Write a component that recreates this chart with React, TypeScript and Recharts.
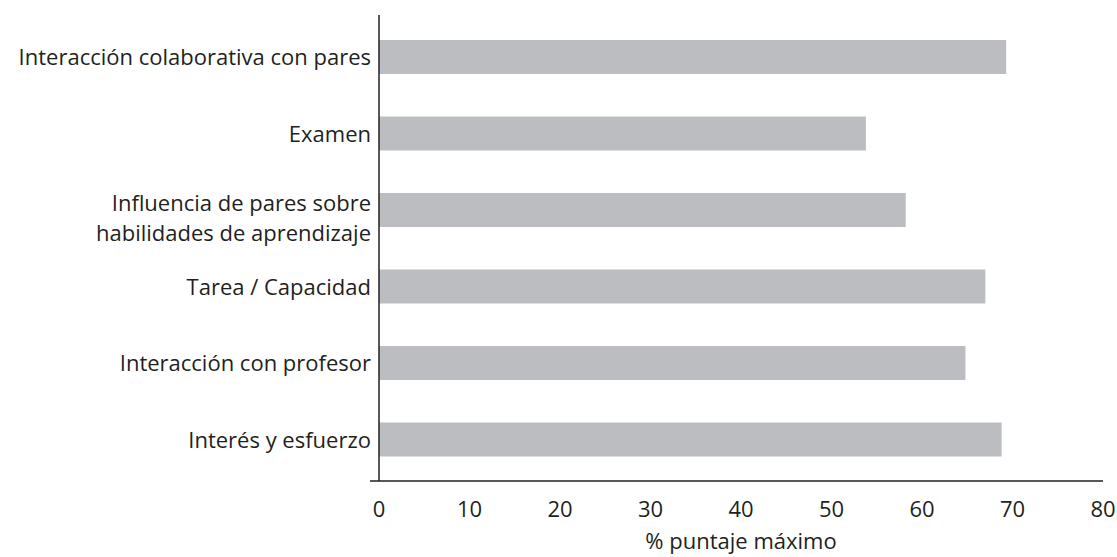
import { BarChart, Bar, XAxis, YAxis, Label, usePlotArea } from 'recharts'

const categories = [
  'Interacción colaborativa con pares',
  'Examen',
  'Influencia de pares sobre\nhabilidades de aprendizaje',
  'Tarea / Capacidad',
  'Interacción con profesor',
  'Interés y esfuerzo',
]
const scores = [69.3, 53.8, 58.2, 67.0, 64.8, 68.8]
const xTicks = [0, 10, 20, 30, 40, 50, 60, 70, 80]
const xTitle = '% puntaje máximo'

const data = categories.map((name, i) => ({ name, value: scores[i] }))

const INK = '#231f20'
const BAR = '#bcbdc1'
const FONT = '"Open Sans", sans-serif'

function CategoryTick({ x, y, payload }: any) {
  const lines = String(payload.value).split('\n')
  if (lines.length === 1) {
    return (
      <text x={x} y={y} dy="0.355em" textAnchor="end" fill={INK} fontSize={22} fontFamily={FONT}>
        {lines[0]}
      </text>
    )
  }
  return (
    <text x={x} y={y} textAnchor="end" fill={INK} fontSize={22} fontFamily={FONT}>
      <tspan x={x} dy={1}>{lines[0]}</tspan>
      <tspan x={x} dy={30}>{lines[1]}</tspan>
    </text>
  )
}

// the baseline runs a little past the value axis on the left
function AxisStub() {
  const plot = usePlotArea()
  if (!plot) return null
  const y = plot.y + plot.height
  return <line x1={plot.x - 9} x2={plot.x} y1={y} y2={y} stroke={INK} strokeWidth={1.5} />
}

export default function App() {
  return (
    <div style={{ width: 1117, height: 557, background: '#fff' }}>
      <style>{'body { margin: 0; }'}</style>
      <BarChart
        width={1117}
        height={557}
        data={data}
        layout="vertical"
        margin={{ top: 15, right: 14, left: 0, bottom: 0 }}
      >
        <XAxis
          type="number"
          domain={[0, 80]}
          ticks={xTicks}
          tickLine={false}
          tickMargin={14}
          axisLine={{ stroke: INK, strokeWidth: 1.5 }}
          tick={{ fill: INK, fontSize: 22, fontFamily: FONT }}
          height={76}
        >
          <Label
            value={xTitle}
            position="insideBottom"
            offset={8}
            fill={INK}
            fontSize={22}
            fontFamily={FONT}
          />
        </XAxis>
        <YAxis
          type="category"
          dataKey="name"
          width={379}
          tickLine={false}
          axisLine={{ stroke: INK, strokeWidth: 1.5 }}
          padding={{ top: 4, bottom: 3 }}
          interval={0}
          tick={<CategoryTick />}
        />
        <Bar dataKey="value" fill={BAR} barSize={34} isAnimationActive={false} />
        <AxisStub />
      </BarChart>
    </div>
  )
}
